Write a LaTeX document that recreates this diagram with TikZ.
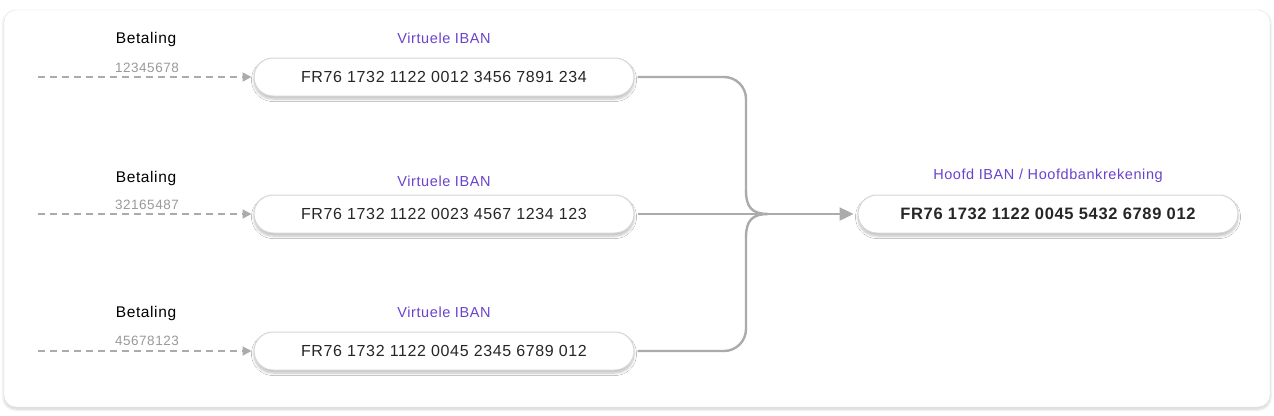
\documentclass[tikz,border=0pt]{standalone}
\usepackage{fontspec}
\setmainfont{Liberation Sans}[LetterSpace=4]
\usetikzlibrary{arrows.meta,shadows.blur}
\definecolor{labelpurple}{HTML}{6A43CC}
\definecolor{linegray}{HTML}{ABABAB}
\definecolor{boxgray}{HTML}{D6D6DA}
\definecolor{numgray}{HTML}{9A9A9A}
\tikzset{
	ibanbox/.style={draw=boxgray, line width=1pt, fill=white, rounded corners=19pt, minimum width=380pt, minimum height=38pt, inner sep=0pt, text=black!85, font=\fontsize{16}{16}\selectfont, blur shadow={shadow xshift=0pt, shadow yshift=-3pt, shadow blur radius=2.5pt, shadow blur steps=8, shadow opacity=25}},
	purplelabel/.style={text=labelpurple, font=\fontsize{14.5}{14.5}\selectfont},
	paylabel/.style={text=black, font=\fontsize{15.5}{15.5}\selectfont},
	paynum/.style={text=numgray, font=\fontsize{13.5}{13.5}\selectfont},
	payline/.style={draw=linegray, line width=1.8pt, dash pattern=on 7pt off 5pt, -{Triangle[length=9pt,width=9pt]}},
	flowline/.style={draw=linegray, line width=2.4pt}
}
\begin{document}
\begin{tikzpicture}[x=1pt, y=-1pt]
			%%%%% START %%%%%
			\useasboundingbox (0, 0) rectangle (1274, 415);
			
			\draw[draw=black!10, fill=white, rounded corners=12pt, blur shadow={shadow xshift=0pt, shadow yshift=-2pt, shadow blur radius=3pt, shadow blur steps=8, shadow opacity=20}] (4, 10) rectangle (1270, 407);
			
			\node[ibanbox] (v1) at (444, 77) {FR76 1732 1122 0012 3456 7891 234};
			\node[ibanbox] (v2) at (444, 214) {FR76 1732 1122 0023 4567 1234 123};
			\node[ibanbox] (v3) at (444, 351) {FR76 1732 1122 0045 2345 6789 012};
			\node[ibanbox, font=\fontsize{16.5}{16.5}\selectfont\bfseries] (main) at (1048, 214) {FR76 1732 1122 0045 5432 6789 012};
			
			\node[purplelabel] (v1label) at (444, 38) {Virtuele IBAN};
			\node[purplelabel] (v2label) at (444, 181) {Virtuele IBAN};
			\node[purplelabel] (v3label) at (444, 312) {Virtuele IBAN};
			\node[purplelabel] (mainlabel) at (1048, 176) {Hoofd IBAN / Hoofdbankrekening};
			
			\node[paylabel] (p1) at (146, 39) {Betaling};
			\node[paylabel] (p2) at (146, 178) {Betaling};
			\node[paylabel] (p3) at (146, 313) {Betaling};
			\node[paynum] (n1) at (147, 68) {12345678};
			\node[paynum] (n2) at (147, 205) {32165487};
			\node[paynum] (n3) at (147, 341) {45678123};
			
			\coordinate (s1) at (38, 77);
			\coordinate (s2) at (38, 214);
			\coordinate (s3) at (38, 351);
			\draw[payline] (s1) -- ([xshift=-2pt]v1.west);
			\draw[payline] (s2) -- ([xshift=-2pt]v2.west);
			\draw[payline] (s3) -- ([xshift=-2pt]v3.west);
			
			% the two outer lines bend into the middle one
			\coordinate (merge) at (768, 214);
			\draw[flowline, rounded corners=22pt] ([xshift=3pt]v1.east) -- (746, 77) -- (746, 192);
			\draw[flowline, rounded corners=22pt] ([xshift=3pt]v3.east) -- (746, 351) -- (746, 236);
			\draw[flowline] (746, 191) .. controls (746, 207) and (752, 214) .. (merge);
			\draw[flowline] (746, 237) .. controls (746, 221) and (752, 214) .. (merge);
			\draw[flowline, -{Triangle[length=14pt,width=13pt]}] ([xshift=3pt]v2.east) -- ([xshift=-4pt]main.west);
			
			%%%%% END %%%%%
\end{tikzpicture}
\end{document}
